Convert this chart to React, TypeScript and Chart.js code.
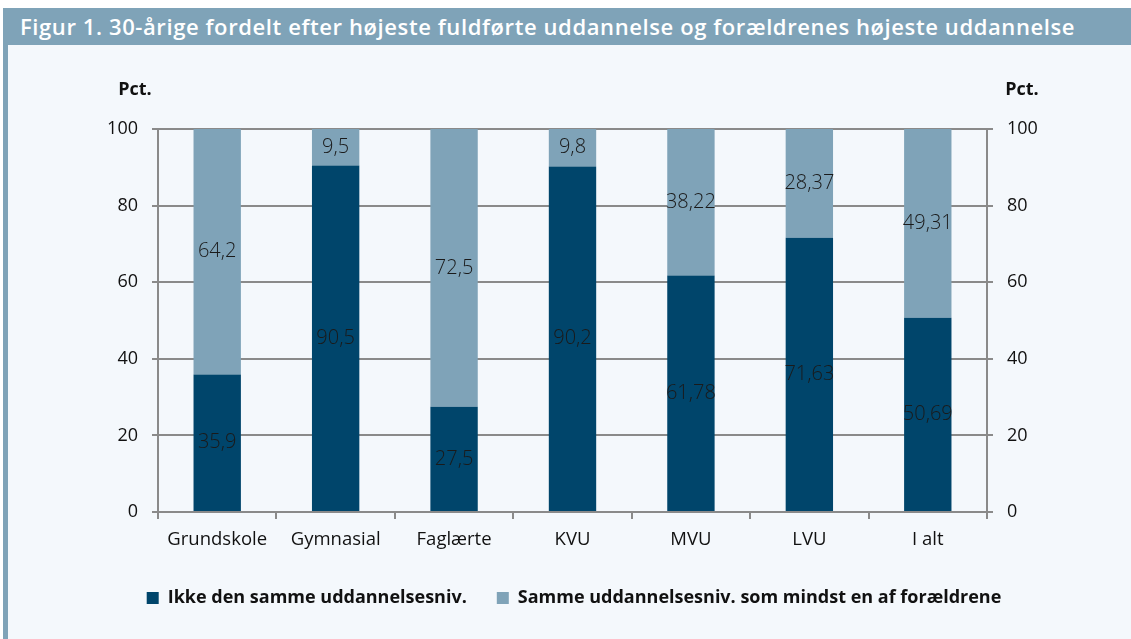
import React, { useEffect, useRef } from "react";
import { Chart, registerables } from "chart.js";

Chart.register(...registerables);

const titleText =
  "Figur 1. 30-årige fordelt efter højeste fuldførte uddannelse og forældrenes højeste uddannelse";
const categories = ["Grundskole", "Gymnasial", "Faglærte", "KVU", "MVU", "LVU", "I alt"];
const notSameLevel = [35.9, 90.5, 27.5, 90.2, 61.78, 71.63, 50.69];
const sameLevel = [64.2, 9.5, 72.5, 9.8, 38.22, 28.37, 49.31];
const seriesNames = [
  "Ikke den samme uddannelsesniv.",
  "Samme uddannelsesniv. som mindst en af forældrene",
];
const axisUnit = "Pct.";
const yMin = 0;
const yMax = 100;
const yStep = 20;

const DARK = "#00456B";
const LIGHT = "#7FA3B8";
const GRID = "#8A8A8A";
const TEXT = "#111111";
const FONT = "'Open Sans', sans-serif";

const segmentLabels = {
  id: "segmentLabels",
  afterDatasetsDraw(chart: any) {
    const ctx = chart.ctx;
    ctx.save();
    ctx.font = `300 20px ${FONT}`;
    ctx.fillStyle = "#1a1a1a";
    ctx.textAlign = "center";
    ctx.textBaseline = "middle";
    chart.data.datasets.forEach((ds: any, i: number) => {
      const meta = chart.getDatasetMeta(i);
      meta.data.forEach((bar: any, j: number) => {
        const v = ds.data[j];
        const p = bar.getProps(["x", "y", "base"], true);
        ctx.fillText(String(v).replace(".", ","), p.x, (p.y + p.base) / 2);
      });
    });
    ctx.restore();
  },
};

const unitLabels = {
  id: "unitLabels",
  afterDraw(chart: any) {
    const { ctx, chartArea } = chart;
    ctx.save();
    ctx.font = `bold 18px ${FONT}`;
    ctx.fillStyle = TEXT;
    ctx.textAlign = "center";
    ctx.textBaseline = "middle";
    ctx.fillText(axisUnit, chartArea.left - 23, chartArea.top - 39);
    ctx.fillText(axisUnit, chartArea.right + 35, chartArea.top - 39);
    ctx.restore();
  },
};

export default function App() {
  const canvasRef = useRef<HTMLCanvasElement | null>(null);

  useEffect(() => {
    if (!canvasRef.current) return;
    const chart = new Chart(canvasRef.current, {
      type: "bar",
      data: {
        labels: categories,
        datasets: [
          {
            label: seriesNames[0],
            data: notSameLevel,
            backgroundColor: DARK,
            barPercentage: 0.4,
            categoryPercentage: 1,
          },
          {
            label: seriesNames[1],
            data: sameLevel,
            backgroundColor: LIGHT,
            barPercentage: 0.4,
            categoryPercentage: 1,
          },
        ],
      },
      options: {
        animation: false,
        responsive: true,
        maintainAspectRatio: false,
        layout: { padding: { top: 84, left: 9, right: 0, bottom: 22 } },
        plugins: {
          title: { display: false },
          tooltip: { enabled: false },
          legend: {
            position: "bottom",
            labels: {
              boxWidth: 12,
              boxHeight: 12,
              padding: 30,
              color: TEXT,
              font: { family: FONT, size: 18, weight: "bold" },
            },
          },
        },
        scales: {
          x: {
            stacked: true,
            grid: {
              display: true,
              drawOnChartArea: false,
              drawTicks: true,
              tickLength: 7,
              color: GRID,
              lineWidth: 2,
              offset: true,
            },
            border: { display: true, color: GRID, width: 2 },
            ticks: { color: TEXT, padding: 10, font: { family: FONT, size: 18.5 } },
            afterFit(scale: any) {
              scale.height = 47;
            },
          },
          y: {
            stacked: true,
            position: "left",
            min: yMin,
            max: yMax,
            ticks: {
              stepSize: yStep,
              color: TEXT,
              padding: 14,
              font: { family: FONT, size: 18 },
            },
            grid: { color: GRID, lineWidth: 2, tickLength: 6 },
            border: { display: true, color: GRID, width: 2 },
            afterFit(scale: any) {
              scale.width = 141;
            },
          },
          y2: {
            position: "right",
            min: yMin,
            max: yMax,
            ticks: {
              stepSize: yStep,
              color: TEXT,
              padding: 14,
              font: { family: FONT, size: 18 },
            },
            grid: { drawOnChartArea: false, color: GRID, lineWidth: 2, tickLength: 6 },
            border: { display: true, color: GRID, width: 2 },
            afterFit(scale: any) {
              scale.width = 144;
            },
          },
        },
      },
      plugins: [segmentLabels, unitLabels],
    });
    return () => chart.destroy();
  }, []);

  return (
    <div
      style={{
        position: "absolute",
        left: 0,
        top: 0,
        width: 1131,
        height: 639,
        background: "#ffffff",
        overflow: "hidden",
      }}
    >
      <div
        style={{
          position: "absolute",
          left: 3,
          top: 8,
          width: 1128,
          height: 631,
          background: LIGHT,
        }}
      />
      <div
        style={{
          position: "absolute",
          left: 20,
          top: 8,
          height: 37,
          lineHeight: "37px",
          color: "#ffffff",
          fontFamily: FONT,
          fontWeight: 600,
          fontSize: 22,
          letterSpacing: "0.6px",
          whiteSpace: "nowrap",
        }}
      >
        {titleText}
      </div>
      <div
        style={{
          position: "absolute",
          left: 8,
          top: 45,
          width: 1123,
          height: 594,
          background: "#F4F8FC",
        }}
      >
        <canvas ref={canvasRef} />
      </div>
    </div>
  );
}
